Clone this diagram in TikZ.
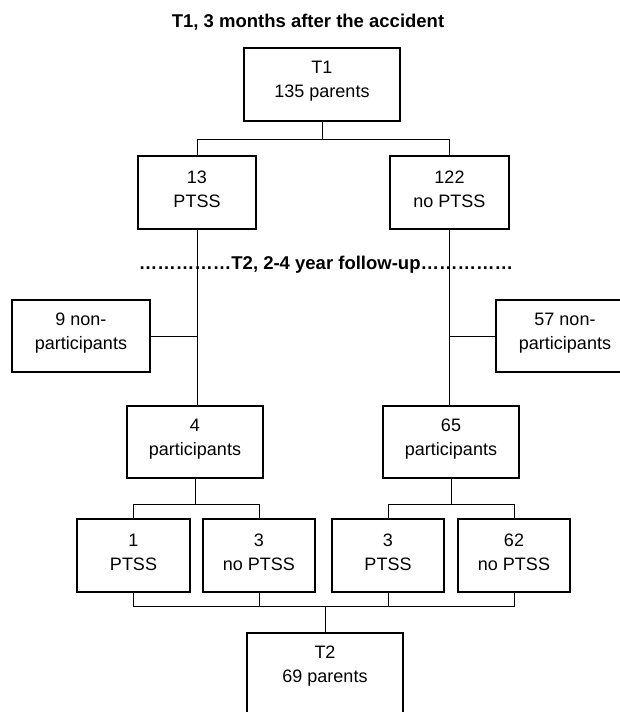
\documentclass[tikz,border=0pt]{standalone}
\usepackage{fontspec}
\setmainfont{Liberation Sans}
\begin{document}
\begin{tikzpicture}[x=1pt,y=-1pt,
  boxline/.style={draw=black,line width=1.3pt},
  conn/.style={draw=black,line width=1pt},
  cbox/.style={boxline,minimum height=73pt,inner sep=0pt},
  txt/.style={font=\fontsize{18}{24}\selectfont,align=center,inner sep=0pt},
  bold/.style={font=\fontsize{18.5}{22}\selectfont\bfseries,inner sep=0pt}]
\useasboundingbox (0,0) rectangle (620,712);
\clip (0,0) rectangle (620,712);

\node[bold] (title) at (308,22) {T1, 3 months after the accident};

\node[cbox,minimum width=156pt,label={[txt,yshift=3pt]center:T1\\135 parents}] (t1) at (322,84.5) {};
\node[cbox,minimum width=118pt,label={[txt,yshift=3pt]center:13\\PTSS}] (s13) at (197,192.5) {};
\node[cbox,minimum width=119pt,label={[txt,yshift=3pt]center:122\\no PTSS}] (s122) at (449.5,192.5) {};

\node[bold] (fu) at (326,265) {……………T2, 2-4 year follow-up……………};

\node[cbox,minimum width=138pt,minimum height=72pt,label={[txt,yshift=3pt]center:9 non-\\participants}] (np9) at (81,336) {};
\node[cbox,minimum width=138pt,minimum height=72pt,label={[txt,yshift=3pt]center:57 non-\\participants}] (np57) at (565,336) {};

\node[cbox,minimum width=136pt,minimum height=72pt,label={[txt,yshift=3pt]center:4\\participants}] (p4) at (195,442) {};
\node[cbox,minimum width=136pt,minimum height=72pt,label={[txt,yshift=3pt]center:65\\participants}] (p65) at (451,442) {};

\node[cbox,minimum width=113pt,label={[txt,yshift=3pt]center:1\\PTSS}] (b1) at (133.5,555.5) {};
\node[cbox,minimum width=112pt,label={[txt,yshift=3pt]center:3\\no PTSS}] (b2) at (259,555.5) {};
\node[cbox,minimum width=112pt,label={[txt,yshift=3pt]center:3\\PTSS}] (b3) at (388,555.5) {};
\node[cbox,minimum width=112pt,label={[txt,yshift=3pt]center:62\\no PTSS}] (b4) at (514,555.5) {};

\node[cbox,minimum width=156pt,minimum height=90pt,label={[txt,yshift=12pt]center:T2\\69 parents}] (t2) at (325,678) {};

% connectors
\draw[conn] (t1.south) -- ++(0,18) -| (s13.north);
\draw[conn] (t1.south) -- ++(0,18) -| (s122.north);
\draw[conn] (s13.south) -- (s13.south |- p4.north);
\draw[conn] (s122.south) -- (s122.south |- p65.north);
\draw[conn] (np9.east) -- (np9.east -| s13.south);
\draw[conn] (np57.west) -- (np57.west -| s122.south);
\draw[conn] (p4.south) -- ++(0,26) -| (b1.north);
\draw[conn] (p4.south) -- ++(0,26) -| (b2.north);
\draw[conn] (p65.south) -- ++(0,26) -| (b3.north);
\draw[conn] (p65.south) -- ++(0,26) -| (b4.north);
\draw[conn] (b1.south) -- ++(0,14) -| (t2.north);
\draw[conn] (b4.south) -- ++(0,14) -| (t2.north);
\draw[conn] (b2.south) -- ++(0,14);
\draw[conn] (b3.south) -- ++(0,14);
\end{tikzpicture}
\end{document}
